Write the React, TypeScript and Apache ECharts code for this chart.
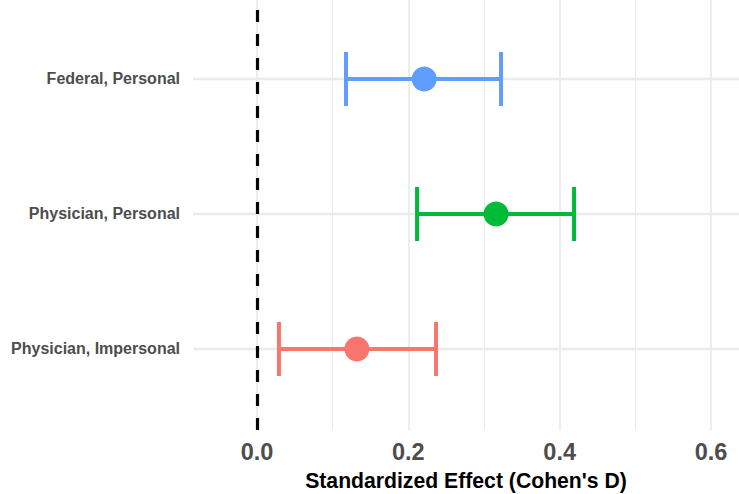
import React, { useEffect, useRef } from "react";
import * as echarts from "echarts";

const categories = ["Physician, Impersonal", "Physician, Personal", "Federal, Personal"];
const estimates = [0.132, 0.316, 0.221];
const lowerCI = [0.029, 0.2115, 0.1176];
const upperCI = [0.2366, 0.419, 0.3225];
const colors = ["#F8766D", "#00BA38", "#619CFF"];
const xTicks = [0, 0.2, 0.4, 0.6];
const xMinorTicks = [0.1, 0.3, 0.5];
const yPositions = [1, 2, 3];

export default function App() {
  const ref = useRef<HTMLDivElement>(null);
  useEffect(() => {
    if (!ref.current) return;
    const chart = echarts.init(ref.current, undefined, { renderer: "svg" });
    const font = "'Liberation Sans', Arial, Helvetica, sans-serif";
    const gridMarks: any[] = [
      ...xTicks.map((v) => ({ xAxis: v, lineStyle: { color: "#EBEBEB", width: 1.8, type: "solid" } })),
      ...xMinorTicks.map((v) => ({ xAxis: v, lineStyle: { color: "#EBEBEB", width: 1.1, type: "solid" } })),
      ...yPositions.map((v) => ({ yAxis: v, lineStyle: { color: "#EBEBEB", width: 2.4, type: "solid" } })),
    ];
    chart.setOption({
      animation: false,
      grid: { left: 193, right: 0, top: 0, bottom: 64, outerBoundsMode: "none" },
      xAxis: {
        type: "value",
        min: -0.0846,
        max: 0.637,
        axisLine: { show: false },
        axisTick: { show: false },
        splitLine: { show: false },
        axisLabel: {
          customValues: xTicks,
          formatter: (v: number) => v.toFixed(1),
          color: "#4D4D4D",
          fontWeight: "bold",
          fontSize: 23.5,
          fontFamily: font,
          margin: 10,
        },
        name: "Standardized Effect (Cohen's D)",
        nameLocation: "middle",
        nameGap: 40,
        nameTextStyle: { color: "#000", fontWeight: "bold", fontSize: 21.2, fontFamily: font },
      },
      yAxis: {
        type: "value",
        min: 0.4,
        max: 3.585,
        axisLine: { show: false },
        axisTick: { show: false },
        splitLine: { show: false },
        axisLabel: {
          customValues: yPositions,
          formatter: (v: number) => categories[Math.round(v) - 1] ?? "",
          color: "#4D4D4D",
          fontWeight: "bold",
          fontSize: 16,
          fontFamily: font,
          margin: 13,
        },
      },
      series: [
        {
          type: "scatter",
          data: [],
          silent: true,
          z: 0,
          markLine: { silent: true, symbol: "none", label: { show: false }, z: 0, data: gridMarks },
        },
        {
          type: "scatter",
          data: [],
          silent: true,
          z: 1,
          markLine: {
            silent: true,
            symbol: "none",
            label: { show: false },
            z: 1,
            data: [{ xAxis: 0, lineStyle: { color: "#000", width: 3.2, type: [12, 12] } }],
          },
        },
        {
          type: "custom",
          z: 5,
          data: yPositions.map((y, i) => [lowerCI[i], upperCI[i], y, i]),
          renderItem: (params: any, api: any) => {
            const lo = api.coord([api.value(0), api.value(2)]);
            const hi = api.coord([api.value(1), api.value(2)]);
            const c = colors[api.value(3)];
            const h = 27;
            const style = { stroke: c, lineWidth: 4, fill: null };
            return {
              type: "group",
              children: [
                { type: "line", shape: { x1: lo[0], y1: lo[1], x2: hi[0], y2: hi[1] }, style },
                { type: "line", shape: { x1: lo[0], y1: lo[1] - h, x2: lo[0], y2: lo[1] + h }, style },
                { type: "line", shape: { x1: hi[0], y1: hi[1] - h, x2: hi[0], y2: hi[1] + h }, style },
              ],
            };
          },
        },
        {
          type: "scatter",
          z: 6,
          symbolSize: 25,
          data: yPositions.map((y, i) => ({ value: [estimates[i], y], itemStyle: { color: colors[i], opacity: 1 } })),
        },
      ],
    });
    return () => chart.dispose();
  }, []);
  return <div ref={ref} style={{ width: 739, height: 494, position: "absolute", left: 0, top: 0 }} />;
}
